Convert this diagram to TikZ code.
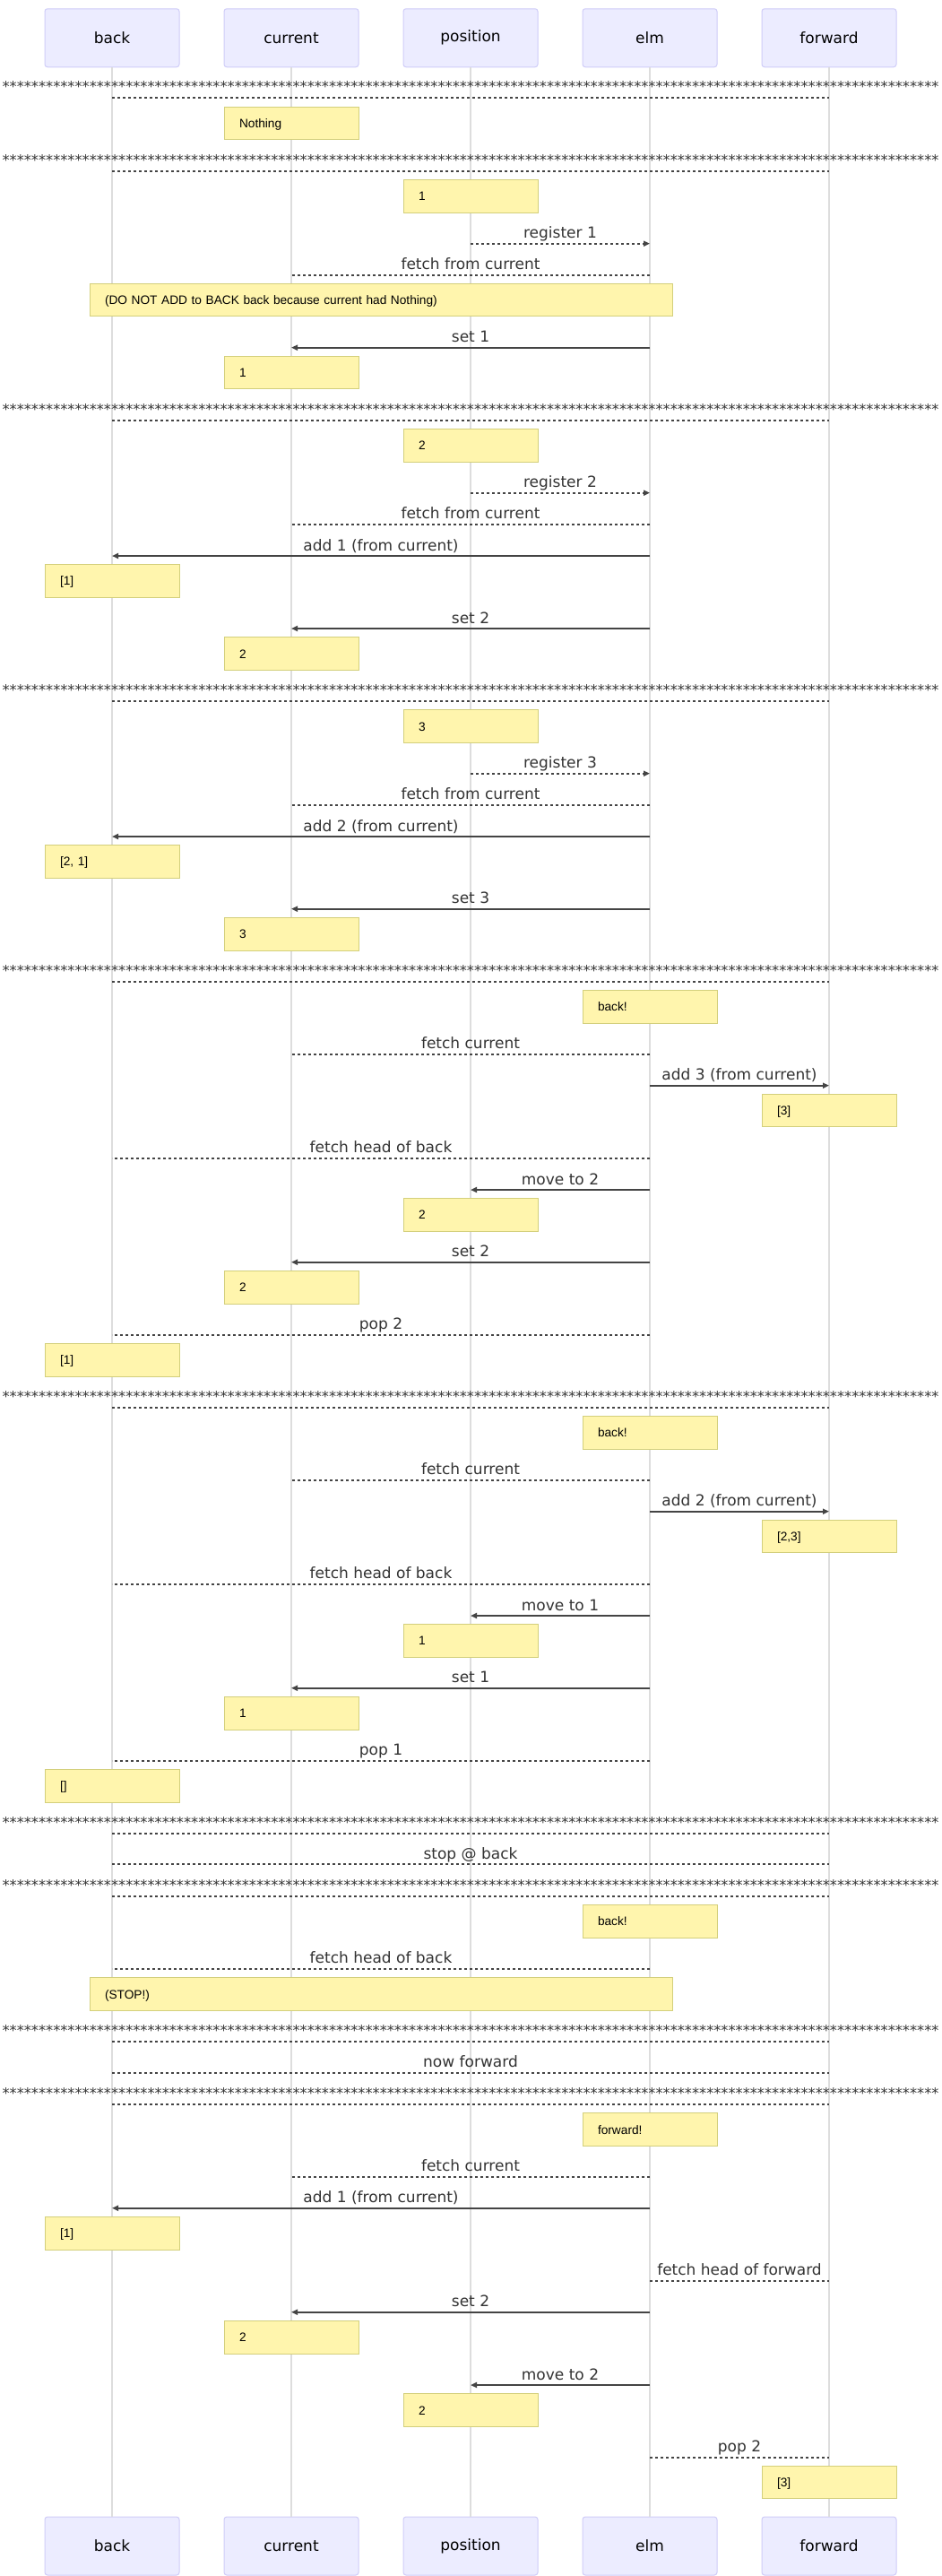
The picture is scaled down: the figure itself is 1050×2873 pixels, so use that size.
\documentclass[tikz,border=0pt]{standalone}
\usepackage{fontspec}
\setmainfont{DejaVu Sans}
\newfontfamily\notefont{Liberation Sans}
\usetikzlibrary{arrows.meta}
\definecolor{actorfill}{HTML}{ECECFF}
\definecolor{actorline}{HTML}{CFCCF8}
\definecolor{lifegray}{HTML}{DDDDDD}
\definecolor{notefill}{HTML}{FFF5AD}
\definecolor{notestroke}{HTML}{D3CF7C}
\definecolor{msgcol}{HTML}{444444}
\definecolor{lblcol}{HTML}{333333}
\ExplSyntaxOn
\NewDocumentCommand\starrow{}{\prg_replicate:nn{129}{*}}
\ExplSyntaxOff
\def\XB{125}\def\XC{325}\def\XP{525}\def\XE{725}\def\XF{925}
\tikzset{
  actor/.style={draw=actorline, fill=actorfill, rounded corners=3pt, line width=1pt,
    minimum width=150pt, minimum height=65pt, inner sep=0pt,
    font=\fontsize{17}{20}\selectfont, text=black},
  lifeline/.style={draw=lifegray, line width=1.5pt},
  notebox/.style={draw=notestroke, fill=notefill, line width=1pt, minimum width=150pt,
    minimum height=36.5pt, text width=116pt, align=left, inner xsep=17pt, inner ysep=0pt,
    text height=10pt, text depth=0pt, font=\notefont\fontsize{13.7}{16}\selectfont, text=black},
  widenote/.style={notebox, minimum width=650pt, text width=616pt},
  solidmsg/.style={draw=msgcol, line width=2pt, -{Triangle[length=7pt,width=6pt]}},
  dotmsg/.style={draw=msgcol, line width=2pt, dash pattern=on 3pt off 3pt},
  dotarrow/.style={dotmsg, -{Triangle[length=7pt,width=6pt]}},
  lbl/.style={anchor=base, yshift=6pt, inner sep=0pt, text=lblcol,
    font=\fontsize{17}{20}\selectfont},
  starlbl/.style={anchor=base, yshift=6.5pt, inner sep=0pt, text=lblcol,
    font=\fontsize{16.2}{18}\selectfont},
}
% message: style, x1, x2, y, label, name
\newcommand\msg[6]{%
  \coordinate (#6s) at (#2,#4);
  \coordinate (#6e) at (#3,#4);
  \draw[#1] (#6s) -- node[lbl]{#5} (#6e);}
% separator: y, name
\newcommand\sepline[2]{%
  \coordinate (#2s) at (\XB,#1);
  \coordinate (#2e) at (\XF,#1);
  \draw[dotmsg] (#2s) -- node[starlbl]{\starrow} (#2e);}
% note: style, x, y, text, name
\newcommand\mnote[5]{\node[#1] (#5) at (#2,#3) {#4};}
\begin{document}
\begin{tikzpicture}[x=1pt,y=-1pt]
\fill[white] (0,0) rectangle (1050,2873);
\useasboundingbox (0,0) rectangle (1050,2873);
% actors
\node[actor] (tback) at (\XB,42.25) {back};
\node[actor] (tcur) at (\XC,42.25) {current};
\node[actor] (tpos) at (\XP,42.25) {position};
\node[actor] (telm) at (\XE,42.25) {elm};
\node[actor] (tfwd) at (\XF,42.25) {forward};
\node[actor] (bback) at (\XB,2839.5) {back};
\node[actor] (bcur) at (\XC,2839.5) {current};
\node[actor] (bpos) at (\XP,2839.5) {position};
\node[actor] (belm) at (\XE,2839.5) {elm};
\node[actor] (bfwd) at (\XF,2839.5) {forward};
\draw[lifeline] (tback) -- (bback);
\draw[lifeline] (tcur) -- (bcur);
\draw[lifeline] (tpos) -- (bpos);
\draw[lifeline] (telm) -- (belm);
\draw[lifeline] (tfwd) -- (bfwd);
% section 1
\sepline{109.3}{s1}
\mnote{notebox}{\XC}{137.65}{Nothing}{n1}
% section 2
\sepline{190.7}{s2}
\mnote{notebox}{\XP}{218.8}{1}{n2}
\msg{dotarrow}{\XP}{\XE}{271.7}{register 1}{m1}
\msg{dotmsg}{\XE}{\XC}{306.7}{fetch from current}{m2}
\mnote{widenote}{425}{334.7}{(DO NOT ADD to BACK back because current had Nothing)}{n3}
\msg{solidmsg}{\XE}{\XC}{387.7}{set 1}{m3}
\mnote{notebox}{\XC}{415.65}{1}{n4}
% section 3
\sepline{469}{s3}
\mnote{notebox}{\XP}{496.85}{2}{n5}
\msg{dotarrow}{\XP}{\XE}{549.7}{register 2}{m4}
\msg{dotmsg}{\XE}{\XC}{584.7}{fetch from current}{m5}
\msg{solidmsg}{\XE}{\XB}{620}{add 1 (from current)}{m6}
\mnote{notebox}{\XB}{647.85}{[1]}{n6}
\msg{solidmsg}{\XE}{\XC}{701}{set 2}{m7}
\mnote{notebox}{\XC}{729}{2}{n7}
% section 4
\sepline{781.7}{s4}
\mnote{notebox}{\XP}{810}{3}{n8}
\msg{dotarrow}{\XP}{\XE}{862.7}{register 3}{m8}
\msg{dotmsg}{\XE}{\XC}{897.7}{fetch from current}{m9}
\msg{solidmsg}{\XE}{\XB}{933}{add 2 (from current)}{m10}
\mnote{notebox}{\XB}{960.85}{[2, 1]}{n9}
\msg{solidmsg}{\XE}{\XC}{1013.7}{set 3}{m11}
\mnote{notebox}{\XC}{1041.85}{3}{n10}
% section 5
\sepline{1095}{s5}
\mnote{notebox}{\XE}{1122.85}{back!}{n11}
\msg{dotmsg}{\XE}{\XC}{1175.7}{fetch current}{m12}
\msg{solidmsg}{\XE}{\XF}{1210.7}{add 3 (from current)}{m13}
\mnote{notebox}{\XF}{1238.7}{[3]}{n12}
\msg{dotmsg}{\XE}{\XB}{1291.7}{fetch head of back}{m14}
\msg{solidmsg}{\XE}{\XP}{1327}{move to 2}{m15}
\mnote{notebox}{\XP}{1354.85}{2}{n13}
\msg{solidmsg}{\XE}{\XC}{1407.7}{set 2}{m16}
\mnote{notebox}{\XC}{1435.85}{2}{n14}
\msg{dotmsg}{\XE}{\XB}{1488.7}{pop 2}{m17}
\mnote{notebox}{\XB}{1516.85}{[1]}{n15}
% section 6
\sepline{1570}{s6}
\mnote{notebox}{\XE}{1597.85}{back!}{n16}
\msg{dotmsg}{\XE}{\XC}{1650.7}{fetch current}{m18}
\msg{solidmsg}{\XE}{\XF}{1685.7}{add 2 (from current)}{m19}
\mnote{notebox}{\XF}{1713.7}{[2,3]}{n17}
\msg{dotmsg}{\XE}{\XB}{1766.7}{fetch head of back}{m20}
\msg{solidmsg}{\XE}{\XP}{1802}{move to 1}{m21}
\mnote{notebox}{\XP}{1829.85}{1}{n18}
\msg{solidmsg}{\XE}{\XC}{1882.7}{set 1}{m22}
\mnote{notebox}{\XC}{1910.85}{1}{n19}
\msg{dotmsg}{\XE}{\XB}{1963.7}{pop 1}{m23}
\mnote{notebox}{\XB}{1991.85}{[]}{n20}
% section 7
\sepline{2045}{s7}
\msg{dotmsg}{\XB}{\XF}{2079}{stop @ back}{m24}
% section 8
\sepline{2114.7}{s8}
\mnote{notebox}{\XE}{2142.85}{back!}{n21}
\msg{dotmsg}{\XE}{\XB}{2195.7}{fetch head of back}{m25}
\mnote{widenote}{425}{2224}{(STOP!)}{n22}
% section 9
\sepline{2276.7}{s9}
\msg{dotmsg}{\XB}{\XF}{2311.7}{now forward}{m26}
% section 10
\sepline{2346.7}{s10}
\mnote{notebox}{\XE}{2375}{forward!}{n23}
\msg{dotmsg}{\XE}{\XC}{2427.7}{fetch current}{m27}
\msg{solidmsg}{\XE}{\XB}{2462.7}{add 1 (from current)}{m28}
\mnote{notebox}{\XB}{2490.85}{[1]}{n24}
\msg{dotmsg}{\XE}{\XF}{2543.7}{fetch head of forward}{m29}
\msg{solidmsg}{\XE}{\XC}{2578.7}{set 2}{m30}
\mnote{notebox}{\XC}{2606.85}{2}{n25}
\msg{solidmsg}{\XE}{\XP}{2660}{move to 2}{m31}
\mnote{notebox}{\XP}{2688.15}{2}{n26}
\msg{dotmsg}{\XE}{\XF}{2740.7}{pop 2}{m32}
\mnote{notebox}{\XF}{2768.7}{[3]}{n27}
\end{tikzpicture}
\end{document}
